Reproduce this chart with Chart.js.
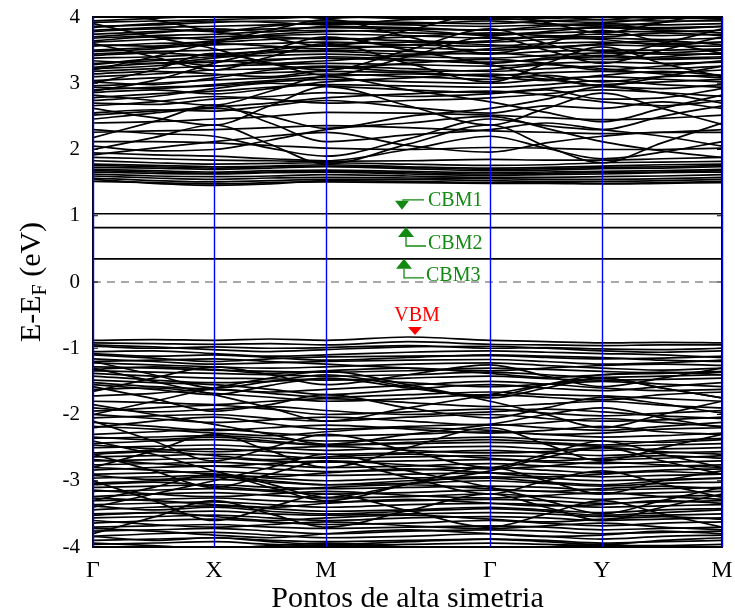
<!DOCTYPE html>
<html><head><meta charset="utf-8">
<script src="https://cdn.jsdelivr.net/npm/chart.js@4"></script>
<style>html,body{margin:0;padding:0;background:#fff}canvas{display:block}</style>
</head><body>
<canvas id="c" width="735" height="615"></canvas>
<script>
// High-symmetry path
const kLabels = ['Γ','X','M','Γ','Y','M'];
const kTicks = [0, 1.21, 2.33, 3.97, 5.09, 6.29];
// k sample points (high-symmetry points and midpoints)
const kPoints = [0, 0.605, 1.21, 1.77, 2.33, 3.15, 3.97, 4.53, 5.09, 5.69, 6.29];
const yTicks = [-4,-3,-2,-1,0,1,2,3,4];

// In-gap defect bands (eV)
const defectBands = [
  [1.03,1.03,1.03,1.03,1.03,1.03,1.03,1.03,1.03,1.03,1.03],
  [0.82,0.82,0.82,0.82,0.82,0.82,0.82,0.82,0.82,0.82,0.82],
  [0.35,0.35,0.35,0.35,0.35,0.35,0.35,0.35,0.35,0.35,0.35]
];

// Conduction bands (eV)
const conductionBands = [
  [1.55,1.49,1.46,1.48,1.53,1.52,1.50,1.50,1.49,1.50,1.52],
  [1.52,1.50,1.48,1.50,1.51,1.50,1.49,1.49,1.48,1.49,1.50],
  [1.57,1.53,1.51,1.53,1.55,1.55,1.53,1.52,1.52,1.53,1.55],
  [1.60,1.57,1.55,1.57,1.58,1.57,1.56,1.55,1.55,1.56,1.58],
  [1.63,1.60,1.59,1.60,1.62,1.60,1.58,1.58,1.59,1.60,1.62],
  [1.66,1.64,1.63,1.65,1.66,1.63,1.61,1.62,1.63,1.65,1.66],
  [1.68,1.66,1.64,1.66,1.67,1.65,1.63,1.64,1.65,1.66,1.68],
  [1.70,1.68,1.66,1.68,1.69,1.67,1.65,1.66,1.67,1.68,1.70],
  [1.73,1.72,1.70,1.72,1.74,1.71,1.68,1.69,1.71,1.72,1.74],
  [1.76,1.74,1.72,1.74,1.75,1.73,1.70,1.71,1.73,1.74,1.76],
  [1.78,1.76,1.74,1.75,1.77,1.74,1.72,1.73,1.75,1.77,1.78],
  [1.83,1.80,1.78,1.79,1.80,1.78,1.76,1.77,1.80,1.81,1.82],
  [1.88,1.86,1.84,1.83,1.82,1.83,1.85,1.84,1.84,1.86,1.88],
  [2.00,2.18,2.37,2.08,1.78,2.08,2.37,2.05,1.80,2.10,2.40],
  [2.62,2.48,2.37,2.66,2.95,2.66,2.37,2.62,2.85,2.62,2.38],
  [2.18,2.42,2.67,2.40,2.12,2.22,2.30,2.40,2.30,2.20,2.05],
  [2.82,2.74,2.67,2.88,3.10,2.90,2.72,2.56,2.42,2.62,2.82],
  [1.95,1.92,1.90,1.86,1.83,2.00,2.20,2.02,1.86,1.96,2.12],
  [2.30,2.24,2.20,2.02,1.90,2.16,2.46,2.36,2.30,2.50,2.66],
  [2.46,2.55,2.62,2.50,2.32,2.50,2.62,2.76,2.95,2.85,2.70],
  [1.92,2.02,2.12,2.20,2.26,2.06,1.96,2.10,2.20,2.26,2.26],
  [2.12,2.12,2.10,2.06,2.02,2.00,2.03,2.02,2.00,2.00,2.02],
  [2.26,2.28,2.30,2.33,2.36,2.33,2.28,2.26,2.24,2.26,2.30],
  [2.40,2.42,2.46,2.50,2.56,2.55,2.52,2.48,2.45,2.47,2.52],
  [2.55,2.60,2.58,2.66,2.74,2.64,2.55,2.66,2.62,2.72,2.62],
  [2.05,1.98,2.00,2.14,2.30,2.40,2.50,2.32,2.12,1.98,1.88],
  [2.70,2.68,2.76,2.80,2.86,2.80,2.84,2.90,2.76,2.78,2.92],
  [2.66,2.72,2.80,2.76,2.70,2.74,2.78,2.84,2.90,2.86,2.80],
  [2.52,2.58,2.64,2.70,2.78,2.84,2.88,2.82,2.72,2.66,2.74],
  [2.74,2.80,2.92,3.00,2.96,2.90,2.86,2.92,2.98,3.02,3.06],
  [2.78,2.84,2.88,2.94,2.98,2.96,2.94,2.98,3.04,2.98,2.94],
  [2.86,2.90,2.84,2.92,3.02,3.08,3.14,3.06,2.96,2.92,2.98],
  [2.90,2.94,2.96,3.02,3.06,3.02,3.00,3.06,3.10,3.06,3.02],
  [2.94,2.92,2.98,3.04,3.10,3.14,3.10,3.04,3.12,3.18,3.12],
  [2.96,3.00,3.05,3.08,3.14,3.10,3.06,3.12,3.02,3.10,3.12],
  [3.02,2.98,3.08,3.20,3.24,3.18,3.20,3.28,3.22,3.14,3.08],
  [3.04,3.08,3.12,3.16,3.18,3.16,3.12,3.16,3.18,3.16,3.20],
  [3.10,3.14,3.20,3.22,3.26,3.22,3.18,3.22,3.26,3.22,3.26],
  [3.14,3.18,3.14,3.10,3.20,3.30,3.36,3.30,3.20,3.26,3.34],
  [3.18,3.22,3.26,3.28,3.30,3.28,3.26,3.30,3.32,3.30,3.32],
  [3.22,3.26,3.34,3.30,3.34,3.42,3.46,3.40,3.36,3.40,3.46],
  [3.24,3.30,3.32,3.36,3.38,3.34,3.32,3.36,3.40,3.36,3.38],
  [3.28,3.36,3.26,3.34,3.40,3.36,3.30,3.38,3.42,3.38,3.40],
  [3.30,3.34,3.40,3.42,3.44,3.40,3.38,3.42,3.46,3.44,3.44],
  [3.34,3.30,3.38,3.46,3.48,3.44,3.52,3.56,3.48,3.46,3.50],
  [3.38,3.40,3.44,3.48,3.50,3.48,3.44,3.48,3.50,3.50,3.52],
  [3.42,3.46,3.42,3.50,3.58,3.62,3.58,3.54,3.60,3.64,3.58],
  [3.44,3.48,3.50,3.54,3.56,3.54,3.50,3.54,3.58,3.56,3.56],
  [3.48,3.52,3.60,3.56,3.52,3.58,3.64,3.70,3.66,3.58,3.62],
  [3.50,3.54,3.58,3.60,3.62,3.58,3.56,3.60,3.62,3.60,3.62],
  [3.56,3.60,3.62,3.66,3.68,3.64,3.62,3.66,3.68,3.66,3.68],
  [3.58,3.56,3.64,3.70,3.66,3.70,3.76,3.72,3.70,3.76,3.72],
  [3.62,3.66,3.70,3.72,3.74,3.72,3.68,3.70,3.74,3.72,3.74],
  [3.64,3.70,3.66,3.74,3.78,3.80,3.72,3.78,3.84,3.80,3.76],
  [3.68,3.72,3.74,3.78,3.80,3.76,3.74,3.76,3.78,3.78,3.80],
  [3.70,3.76,3.82,3.78,3.86,3.84,3.80,3.86,3.88,3.82,3.86],
  [3.74,3.78,3.80,3.82,3.84,3.82,3.80,3.82,3.84,3.84,3.86],
  [3.78,3.82,3.78,3.86,3.92,3.90,3.94,3.90,3.86,3.92,3.96],
  [3.80,3.84,3.86,3.88,3.90,3.88,3.86,3.88,3.90,3.88,3.90],
  [3.84,3.90,3.94,3.92,3.88,3.96,3.98,3.94,3.92,3.98,4.02],
  [3.86,3.88,3.92,3.94,3.94,3.92,3.90,3.94,3.96,3.94,3.94],
  [3.92,3.94,3.96,3.98,4.00,3.98,3.96,3.98,4.00,3.98,3.98],
  [3.94,3.98,4.02,4.04,3.98,4.04,4.06,4.02,3.96,4.04,4.06],
  [3.00,3.20,3.45,3.30,3.12,3.40,3.70,3.50,3.30,3.50,3.70],
  [3.60,3.40,3.20,3.40,3.60,3.30,3.02,3.30,3.55,3.30,3.10],
  [3.20,3.40,3.62,3.80,3.96,3.70,3.45,3.60,3.80,3.62,3.45],
  [3.90,3.70,3.52,3.30,3.20,3.50,3.82,3.60,3.40,3.60,3.82],
  [2.88,3.04,3.30,3.50,3.70,3.50,3.28,3.10,2.96,3.10,3.26],
  [4.10,3.96,3.78,3.68,3.56,3.80,4.05,3.92,3.76,3.92,4.08]
];

// Valence bands (eV)
const valenceBands = [
  [-0.88,-0.87,-0.88,-0.86,-0.88,-0.83,-0.88,-0.90,-0.92,-0.91,-0.92],
  [-0.92,-0.93,-0.94,-0.93,-0.95,-0.90,-0.94,-0.95,-0.96,-0.95,-0.95],
  [-0.95,-0.98,-1.02,-1.05,-1.02,-0.98,-0.97,-1.00,-1.04,-1.06,-1.04],
  [-0.97,-1.00,-0.98,-1.00,-0.99,-0.96,-1.00,-0.99,-1.01,-1.02,-1.00],
  [-1.05,-1.04,-1.08,-1.12,-1.10,-1.06,-1.04,-1.06,-1.08,-1.10,-1.14],
  [-1.08,-1.12,-1.10,-1.14,-1.18,-1.14,-1.10,-1.12,-1.14,-1.18,-1.20],
  [-1.10,-1.15,-1.20,-1.16,-1.13,-1.12,-1.11,-1.14,-1.16,-1.15,-1.12],
  [-1.16,-1.20,-1.24,-1.22,-1.20,-1.18,-1.17,-1.20,-1.24,-1.22,-1.18],
  [-1.20,-1.18,-1.16,-1.20,-1.24,-1.30,-1.34,-1.30,-1.26,-1.24,-1.26],
  [-1.22,-1.25,-1.28,-1.30,-1.28,-1.24,-1.22,-1.26,-1.30,-1.33,-1.30],
  [-1.28,-1.30,-1.33,-1.35,-1.36,-1.34,-1.30,-1.32,-1.35,-1.37,-1.36],
  [-1.32,-1.28,-1.32,-1.38,-1.34,-1.30,-1.38,-1.44,-1.40,-1.36,-1.40],
  [-1.34,-1.36,-1.38,-1.40,-1.42,-1.40,-1.36,-1.40,-1.44,-1.42,-1.40],
  [-1.38,-1.42,-1.45,-1.46,-1.48,-1.45,-1.42,-1.46,-1.48,-1.47,-1.45],
  [-1.42,-1.48,-1.52,-1.50,-1.46,-1.52,-1.58,-1.54,-1.50,-1.54,-1.58],
  [-1.52,-1.58,-1.62,-1.66,-1.62,-1.56,-1.50,-1.54,-1.60,-1.64,-1.62],
  [-1.62,-1.60,-1.68,-1.74,-1.80,-1.76,-1.70,-1.74,-1.78,-1.70,-1.66],
  [-1.65,-1.45,-1.28,-1.40,-1.55,-1.40,-1.25,-1.42,-1.58,-1.45,-1.30],
  [-1.20,-1.40,-1.60,-1.50,-1.40,-1.58,-1.75,-1.60,-1.45,-1.60,-1.75],
  [-1.55,-1.62,-1.70,-1.56,-1.45,-1.60,-1.72,-1.55,-1.40,-1.38,-1.35],
  [-1.48,-1.52,-1.55,-1.62,-1.70,-1.62,-1.55,-1.60,-1.64,-1.58,-1.52],
  [-1.72,-1.68,-1.62,-1.68,-1.74,-1.70,-1.66,-1.70,-1.72,-1.76,-1.80],
  [-1.80,-1.82,-1.85,-1.80,-1.76,-1.82,-1.88,-1.84,-1.80,-1.86,-1.90],
  [-1.58,-1.76,-1.95,-1.85,-1.70,-1.90,-2.05,-1.90,-1.74,-1.84,-1.98],
  [-1.30,-1.50,-1.70,-1.90,-2.10,-1.90,-1.70,-1.55,-1.45,-1.60,-1.75],
  [-2.00,-1.80,-1.60,-1.45,-1.35,-1.55,-1.80,-2.00,-2.20,-2.00,-1.80],
  [-1.90,-1.96,-1.92,-1.88,-1.94,-2.00,-1.96,-1.92,-1.96,-2.02,-2.06],
  [-1.95,-1.90,-1.86,-1.92,-2.00,-1.96,-1.92,-1.98,-2.02,-1.98,-1.94],
  [-2.00,-2.06,-2.12,-2.08,-2.04,-2.10,-2.16,-2.12,-2.06,-2.12,-2.18],
  [-2.05,-2.02,-2.00,-2.06,-2.10,-2.04,-2.00,-2.06,-2.10,-2.08,-2.04],
  [-2.20,-2.10,-2.04,-2.14,-2.22,-2.18,-2.15,-2.20,-2.24,-2.18,-2.12],
  [-2.12,-2.18,-2.24,-2.20,-2.16,-2.22,-2.28,-2.24,-2.18,-2.26,-2.30],
  [-2.18,-2.22,-2.28,-2.32,-2.26,-2.20,-2.24,-2.30,-2.28,-2.22,-2.20],
  [-2.30,-2.26,-2.22,-2.28,-2.32,-2.30,-2.26,-2.30,-2.34,-2.32,-2.28],
  [-2.34,-2.38,-2.34,-2.40,-2.46,-2.42,-2.38,-2.42,-2.46,-2.40,-2.36],
  [-2.36,-2.34,-2.32,-2.36,-2.40,-2.38,-2.34,-2.38,-2.40,-2.42,-2.38],
  [-2.44,-2.40,-2.38,-2.42,-2.46,-2.44,-2.42,-2.44,-2.48,-2.46,-2.44],
  [-2.46,-2.52,-2.56,-2.52,-2.48,-2.54,-2.58,-2.56,-2.50,-2.56,-2.60],
  [-2.50,-2.48,-2.46,-2.50,-2.54,-2.50,-2.48,-2.52,-2.54,-2.52,-2.50],
  [-2.58,-2.54,-2.52,-2.56,-2.60,-2.58,-2.54,-2.58,-2.62,-2.58,-2.56],
  [-2.60,-2.56,-2.62,-2.68,-2.64,-2.60,-2.66,-2.70,-2.66,-2.62,-2.66],
  [-2.64,-2.62,-2.60,-2.62,-2.66,-2.64,-2.62,-2.64,-2.68,-2.66,-2.62],
  [-2.68,-2.74,-2.78,-2.74,-2.70,-2.76,-2.82,-2.78,-2.72,-2.76,-2.80],
  [-2.70,-2.68,-2.66,-2.70,-2.72,-2.70,-2.68,-2.72,-2.74,-2.72,-2.70],
  [-2.76,-2.74,-2.72,-2.76,-2.80,-2.78,-2.74,-2.78,-2.80,-2.78,-2.76],
  [-2.80,-2.84,-2.90,-2.94,-2.88,-2.82,-2.88,-2.94,-2.90,-2.86,-2.90],
  [-2.84,-2.80,-2.78,-2.82,-2.86,-2.84,-2.80,-2.84,-2.88,-2.84,-2.82],
  [-2.90,-2.88,-2.86,-2.90,-2.92,-2.90,-2.88,-2.90,-2.94,-2.92,-2.90],
  [-2.92,-2.98,-2.94,-3.00,-3.06,-3.00,-2.96,-3.02,-3.06,-3.00,-2.96],
  [-2.96,-2.94,-2.92,-2.96,-3.00,-2.96,-2.94,-2.96,-3.00,-2.98,-2.96],
  [-3.04,-3.00,-2.98,-3.02,-3.06,-3.04,-3.00,-3.04,-3.08,-3.04,-3.02],
  [-3.06,-3.02,-3.08,-3.14,-3.10,-3.06,-3.12,-3.16,-3.12,-3.08,-3.12],
  [-3.10,-3.08,-3.06,-3.10,-3.12,-3.10,-3.08,-3.10,-3.14,-3.12,-3.10],
  [-3.14,-3.20,-3.24,-3.20,-3.16,-3.22,-3.26,-3.22,-3.18,-3.24,-3.28],
  [-3.16,-3.14,-3.12,-3.16,-3.20,-3.18,-3.14,-3.16,-3.20,-3.18,-3.16],
  [-3.24,-3.20,-3.18,-3.22,-3.26,-3.24,-3.20,-3.24,-3.28,-3.24,-3.22],
  [-3.26,-3.30,-3.36,-3.40,-3.34,-3.28,-3.34,-3.38,-3.36,-3.30,-3.34],
  [-3.30,-3.28,-3.26,-3.30,-3.32,-3.30,-3.28,-3.30,-3.34,-3.32,-3.30],
  [-3.36,-3.34,-3.32,-3.36,-3.40,-3.36,-3.34,-3.36,-3.40,-3.38,-3.36],
  [-3.38,-3.44,-3.40,-3.46,-3.50,-3.46,-3.42,-3.46,-3.52,-3.48,-3.44],
  [-3.44,-3.40,-3.38,-3.42,-3.46,-3.44,-3.40,-3.44,-3.48,-3.44,-3.42],
  [-3.50,-3.48,-3.46,-3.50,-3.52,-3.50,-3.48,-3.50,-3.54,-3.52,-3.50],
  [-3.52,-3.48,-3.54,-3.60,-3.56,-3.52,-3.58,-3.62,-3.58,-3.54,-3.58],
  [-3.56,-3.54,-3.52,-3.56,-3.60,-3.56,-3.54,-3.56,-3.60,-3.58,-3.56],
  [-3.60,-3.66,-3.70,-3.66,-3.62,-3.68,-3.72,-3.68,-3.64,-3.70,-3.74],
  [-3.64,-3.60,-3.58,-3.62,-3.66,-3.64,-3.60,-3.64,-3.68,-3.64,-3.62],
  [-3.70,-3.68,-3.66,-3.70,-3.72,-3.70,-3.68,-3.70,-3.74,-3.72,-3.70],
  [-3.72,-3.76,-3.82,-3.86,-3.80,-3.74,-3.80,-3.84,-3.82,-3.76,-3.80],
  [-3.76,-3.74,-3.72,-3.76,-3.80,-3.76,-3.74,-3.76,-3.80,-3.78,-3.76],
  [-3.84,-3.80,-3.78,-3.82,-3.86,-3.84,-3.80,-3.84,-3.88,-3.84,-3.82],
  [-3.84,-3.90,-3.86,-3.92,-3.96,-3.92,-3.88,-3.92,-3.96,-3.90,-3.86],
  [-3.90,-3.88,-3.86,-3.90,-3.92,-3.90,-3.88,-3.90,-3.94,-3.92,-3.90],
  [-3.94,-3.98,-4.02,-3.98,-3.94,-4.00,-4.04,-4.00,-3.96,-4.02,-4.06],
  [-3.96,-3.94,-3.92,-3.96,-3.98,-3.96,-3.94,-3.96,-3.98,-3.98,-3.96],
  [-2.10,-2.40,-2.70,-2.50,-2.30,-2.55,-2.80,-2.60,-2.40,-2.60,-2.80],
  [-2.80,-2.55,-2.30,-2.55,-2.80,-2.50,-2.20,-2.45,-2.70,-2.50,-2.30],
  [-2.60,-2.85,-3.10,-2.90,-2.70,-2.95,-3.20,-3.00,-2.85,-3.05,-3.25],
  [-3.30,-3.10,-2.90,-3.10,-3.30,-3.05,-2.80,-3.00,-3.20,-3.00,-2.85],
  [-3.00,-3.30,-3.60,-3.40,-3.20,-3.45,-3.70,-3.50,-3.30,-3.50,-3.70],
  [-3.80,-3.55,-3.30,-3.50,-3.70,-3.45,-3.20,-3.40,-3.60,-3.40,-3.20],
  [-2.40,-2.60,-2.85,-3.05,-3.25,-3.05,-2.85,-2.65,-2.50,-2.70,-2.90],
  [-3.40,-3.20,-3.00,-2.80,-2.60,-2.85,-3.10,-3.30,-3.50,-3.30,-3.10],
  [-1.85,-2.00,-2.15,-2.30,-2.45,-2.30,-2.15,-2.00,-1.90,-2.05,-2.20]
];

// Band-edge markers: arrow tip in (k, E) data units
const markers = [
  {text:'CBM1', k:3.09, E:1.09, dir:'down', color:'#128a12'},
  {text:'CBM2', k:3.13, E:0.83, dir:'up',   color:'#128a12'},
  {text:'CBM3', k:3.11, E:0.35, dir:'up',   color:'#128a12'},
  {text:'VBM',  k:3.22, E:-0.80, dir:'vbm', color:'#ff0000'}
];

const SERIF = '"Liberation Serif","DejaVu Serif",serif';

function mk(arr){ return arr.map((e,i)=>({x:kPoints[i], y:e})); }
const datasets = [];
[...conductionBands, ...valenceBands, ...defectBands].forEach(b=>{
  datasets.push({data: mk(b), borderColor:'#000', borderWidth:1.7, pointRadius:0,
    cubicInterpolationMode:'monotone', fill:false, clip:0});
});

const overlay = {
  id:'overlay',
  afterDatasetsDraw(chart){
    const {ctx, chartArea:a, scales:{x,y}} = chart;
    ctx.save();
    // zero line
    ctx.strokeStyle='#555'; ctx.lineWidth=1.2; ctx.setLineDash([8,6]);
    ctx.beginPath(); ctx.moveTo(a.left, y.getPixelForValue(0)); ctx.lineTo(a.right, y.getPixelForValue(0)); ctx.stroke();
    ctx.setLineDash([]);
    // frame
    ctx.strokeStyle='#000'; ctx.lineWidth=2;
    ctx.strokeRect(a.left, a.top, a.right-a.left, a.bottom-a.top);
    // y inward ticks
    ctx.lineWidth=1;
    yTicks.forEach(v=>{const p=y.getPixelForValue(v);
      ctx.beginPath(); ctx.moveTo(a.left,p); ctx.lineTo(a.left+5,p); ctx.moveTo(a.right,p); ctx.lineTo(a.right-5,p); ctx.stroke();});
    // high-symmetry lines
    ctx.strokeStyle='#0000ff'; ctx.lineWidth=1.4;
    kTicks.forEach(k=>{const p=Math.round(x.getPixelForValue(k))+0.5;
      ctx.beginPath(); ctx.moveTo(p,a.top); ctx.lineTo(p,a.bottom); ctx.stroke();});
    // markers
    ctx.font='20px '+SERIF; ctx.textBaseline='middle';
    markers.forEach(m=>{
      const px=x.getPixelForValue(m.k), py=y.getPixelForValue(m.E);
      ctx.fillStyle=m.color; ctx.strokeStyle=m.color; ctx.lineWidth=1.3;
      if(m.dir==='down'){
        ctx.beginPath(); ctx.moveTo(px-7,py-9); ctx.lineTo(px+7,py-9); ctx.lineTo(px,py); ctx.closePath(); ctx.fill();
        ctx.beginPath(); ctx.moveTo(px+1,py-9); ctx.lineTo(px+1,py-10); ctx.lineTo(px+22,py-10); ctx.stroke();
        ctx.textAlign='left'; ctx.fillText(m.text, px+26, py-9);
      } else if(m.dir==='up'){
        ctx.beginPath(); ctx.moveTo(px-8,py+10); ctx.lineTo(px+8,py+10); ctx.lineTo(px,py); ctx.closePath(); ctx.fill();
        ctx.beginPath(); ctx.moveTo(px,py+10); ctx.lineTo(px,py+19); ctx.lineTo(px+20,py+19); ctx.stroke();
        ctx.textAlign='left'; ctx.fillText(m.text, px+22, py+17);
      } else {
        ctx.beginPath(); ctx.moveTo(px-7,py-8); ctx.lineTo(px+7,py-8); ctx.lineTo(px,py); ctx.closePath(); ctx.fill();
        ctx.textAlign='center'; ctx.fillText(m.text, px+2, py-19);
      }
    });
    ctx.restore();
  },
  afterDraw(chart){
    const {ctx, chartArea:a} = chart;
    ctx.save(); ctx.fillStyle='#000';
    // x title
    ctx.font='30px '+SERIF; ctx.textAlign='center'; ctx.textBaseline='middle';
    ctx.fillText('Pontos de alta simetria', (a.left+a.right)/2, 599);
    // y title with subscript
    ctx.translate(30, (a.top+a.bottom)/2); ctx.rotate(-Math.PI/2);
    const f1='30px '+SERIF, f2='20px '+SERIF;
    ctx.font=f1; const w1=ctx.measureText('E-E').width, w3=ctx.measureText(' (eV)').width;
    ctx.font=f2; const w2=ctx.measureText('F').width;
    let sx=-(w1+w2+w3)/2;
    ctx.textAlign='left'; ctx.textBaseline='alphabetic';
    ctx.font=f1; ctx.fillText('E-E', sx, 10); sx+=w1;
    ctx.font=f2; ctx.fillText('F', sx, 16); sx+=w2;
    ctx.font=f1; ctx.fillText(' (eV)', sx, 10);
    ctx.restore();
  }
};

new Chart(document.getElementById('c'), {
  type:'line',
  data:{datasets},
  options:{
    responsive:false, animation:false, events:[],
    layout:{padding:{top:17, right:13, left:0, bottom:0}},
    plugins:{legend:{display:false}, tooltip:{enabled:false}},
    scales:{
      x:{type:'linear', min:0, max:kTicks[kTicks.length-1],
        afterBuildTicks(s){ s.ticks = kTicks.map(v=>({value:v})); },
        afterFit(s){ s.height = 68; s.paddingLeft = 0; s.paddingRight = 0; },
        grid:{display:false, drawTicks:false}, border:{display:false},
        ticks:{autoSkip:false, maxRotation:0, padding:9, color:'#000',
          font:{family:SERIF, size:24},
          callback:(v,i)=>kLabels[i]}},
      y:{type:'linear', min:-4, max:4,
        afterBuildTicks(s){ s.ticks = yTicks.map(v=>({value:v})); },
        afterFit(s){ s.width = 93; s.paddingTop = 0; s.paddingBottom = 0; },
        grid:{display:false, drawTicks:false}, border:{display:false},
        ticks:{padding:13, color:'#000', font:{family:SERIF, size:21}}}
    }
  },
  plugins:[overlay]
});
</script>
</body></html>
